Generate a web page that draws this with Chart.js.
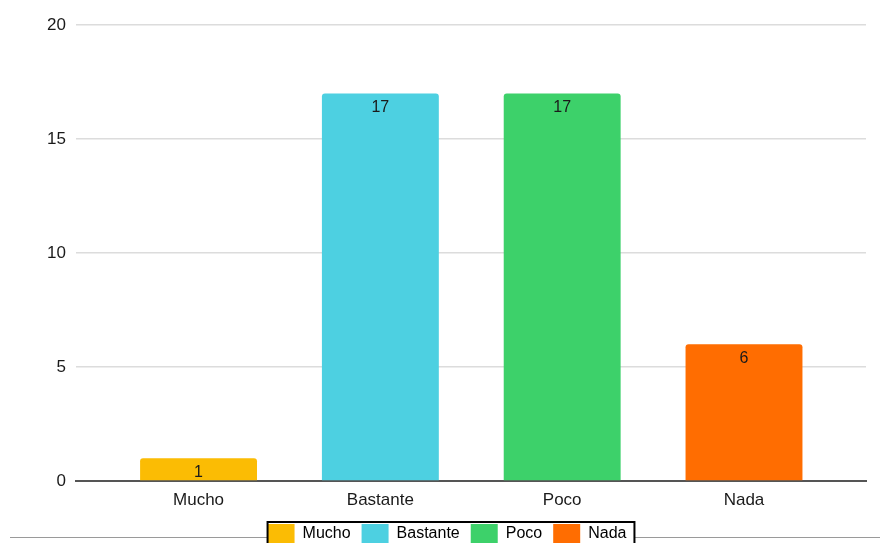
<!DOCTYPE html>
<html>
<head>
<meta charset="utf-8">
<script src="https://cdn.jsdelivr.net/npm/chart.js@4.4.1/dist/chart.umd.min.js"></script>
<style>
  html, body { margin: 0; padding: 0; background: #fff; overflow: hidden; }
  #wrap { width: 880px; height: 554px; }
</style>
</head>
<body>
<div id="wrap"><canvas id="chart"></canvas></div>
<script>
const categories = ['Mucho', 'Bastante', 'Poco', 'Nada'];
const counts = [1, 17, 17, 6];
const barColors = ['#fbbc04', '#4dd0e1', '#3dd16a', '#ff6d01'];
const yTicks = [0, 5, 10, 15, 20];

const textColor = '#1a1a1a';
const fontFamily = '"Liberation Sans", Arial, sans-serif';

// value labels inside the top of each bar
const valueLabels = {
    id: 'valueLabels',
    afterDatasetsDraw(chart) {
        const ctx = chart.ctx;
        const meta = chart.getDatasetMeta(0);
        ctx.save();
        ctx.font = '16px ' + fontFamily;
        ctx.fillStyle = textColor;
        ctx.textAlign = 'center';
        ctx.textBaseline = 'middle';
        meta.data.forEach(function (bar, i) {
            ctx.fillText(String(counts[i]), bar.x, bar.y + 14);
        });
        ctx.restore();
    }
};

// page rule behind the legend, and a framed white legend box
function legendBounds(chart) {
    const boxes = chart.legend.legendHitBoxes;
    if (!boxes || !boxes.length) return null;
    const first = boxes[0], last = boxes[boxes.length - 1];
    return { left: first.left, right: last.left + last.width + 8, top: first.top - 2 };
}

const legendFrame = {
    id: 'legendFrame',
    beforeDraw(chart) {
        const b = legendBounds(chart);
        if (!b) return;
        const ctx = chart.ctx;
        ctx.save();
        ctx.strokeStyle = '#9a9a9a';
        ctx.lineWidth = 1;
        ctx.beginPath();
        ctx.moveTo(10, 537.5);
        ctx.lineTo(880, 537.5);
        ctx.stroke();
        ctx.fillStyle = '#fff';
        ctx.fillRect(b.left, b.top, b.right - b.left, 40);
        ctx.restore();
    },
    afterDraw(chart) {
        const b = legendBounds(chart);
        if (!b) return;
        const ctx = chart.ctx;
        ctx.save();
        ctx.strokeStyle = '#000';
        ctx.lineWidth = 2;
        ctx.strokeRect(b.left, b.top, b.right - b.left, 40);
        ctx.restore();
    }
};

new Chart(document.getElementById('chart'), {
    type: 'bar',
    data: {
        datasets: [{
            data: counts.map((v, i) => ({ x: i, y: v })),
            backgroundColor: barColors,
            borderRadius: { topLeft: 3, topRight: 3 },
            borderSkipped: 'start',
            barPercentage: 0.643,
            categoryPercentage: 1
        }]
    },
    options: {
        responsive: true,
        maintainAspectRatio: false,
        animation: false,
        layout: { padding: { left: 28, right: 14, top: 25, bottom: 0 } },
        plugins: {
            tooltip: { enabled: false },
            legend: {
                position: 'bottom',
                labels: {
                    boxWidth: 27,
                    boxHeight: 20,
                    padding: 11,
                    color: textColor,
                    font: { family: fontFamily, size: 16 },
                    generateLabels: () => categories.map((c, i) => ({
                        text: c,
                        fillStyle: barColors[i],
                        strokeStyle: barColors[i],
                        lineWidth: 0,
                        hidden: false,
                        index: i
                    }))
                }
            }
        },
        scales: {
            x: {
                type: 'linear',
                offset: false,
                min: -0.674,
                max: 3.671,
                afterBuildTicks: scale => { scale.ticks = categories.map((c, i) => ({ value: i })); },
                afterFit: scale => { scale.height = 32; },
                grid: { display: false, drawTicks: false, offset: false },
                border: { color: '#555', width: 2 },
                ticks: {
                    autoSkip: false,
                    maxRotation: 0,
                    padding: 9,
                    color: textColor,
                    font: { family: fontFamily, size: 17 },
                    callback: v => categories[v]
                }
            },
            y: {
                min: 0,
                max: 20,
                afterBuildTicks: scale => { scale.ticks = yTicks.map(v => ({ value: v })); },
                afterFit: scale => { scale.width = 48; },
                grid: { color: '#dcdcdc', lineWidth: 1.5, drawTicks: false },
                border: { display: false },
                ticks: {
                    padding: 10,
                    color: textColor,
                    font: { family: fontFamily, size: 17 }
                }
            }
        }
    },
    plugins: [valueLabels, legendFrame]
});
</script>
</body>
</html>
